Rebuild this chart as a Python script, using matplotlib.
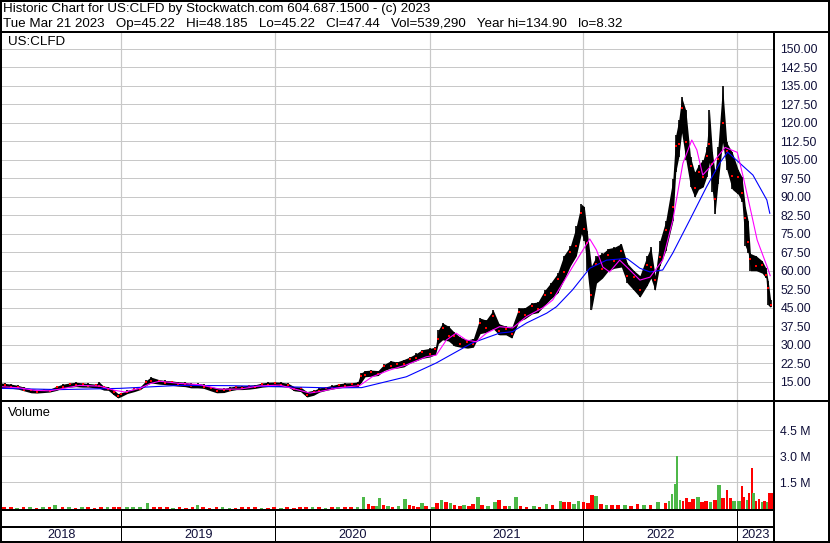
import matplotlib
matplotlib.use('Agg')
import matplotlib.pyplot as plt
import numpy as np
import pandas as pd

plt.rcParams['font.family'] = ['Liberation Sans', 'DejaVu Sans']

# ---------------- data ----------------
title_line1 = "Historic Chart for US:CLFD by Stockwatch.com 604.687.1500 - (c) 2023"
title_line2 = ("Tue Mar 21 2023   Op=45.22   Hi=48.185   Lo=45.22   Cl=47.44   "
               "Vol=539,290   Year hi=134.90   lo=8.32")
symbol = "US:CLFD"

price_dates = [
    "2018-03-21", "2018-04-01", "2018-04-15", "2018-05-01", "2018-05-15", "2018-06-01",
    "2018-06-15", "2018-07-01", "2018-07-15", "2018-08-01", "2018-08-15", "2018-09-01",
    "2018-09-15", "2018-10-01", "2018-10-15", "2018-11-01", "2018-11-10", "2018-11-20",
    "2018-12-01", "2018-12-15", "2018-12-24",
    "2019-01-01", "2019-01-15", "2019-02-01", "2019-02-15", "2019-03-01", "2019-03-12",
    "2019-04-01", "2019-04-15", "2019-05-01", "2019-05-15", "2019-06-01", "2019-06-15",
    "2019-07-01", "2019-07-15", "2019-08-01", "2019-08-15", "2019-09-01", "2019-09-15",
    "2019-10-01", "2019-10-15", "2019-11-01", "2019-11-15", "2019-12-01", "2019-12-15",
    "2020-01-01", "2020-01-15", "2020-02-01", "2020-02-15", "2020-03-01", "2020-03-16",
    "2020-04-01", "2020-04-15", "2020-05-01", "2020-05-15", "2020-06-01", "2020-06-15",
    "2020-07-01", "2020-07-15", "2020-07-22", "2020-08-01", "2020-08-15", "2020-09-01",
    "2020-09-15", "2020-10-01", "2020-10-15", "2020-11-01", "2020-11-15", "2020-12-01",
    "2020-12-15",
    "2021-01-01", "2021-01-15", "2021-01-22", "2021-02-01", "2021-02-15", "2021-03-01",
    "2021-03-15", "2021-04-01", "2021-04-15", "2021-05-01", "2021-05-15", "2021-06-01",
    "2021-06-15", "2021-07-01", "2021-07-15", "2021-08-01", "2021-08-15", "2021-09-01",
    "2021-09-15", "2021-10-01", "2021-10-15", "2021-11-01", "2021-11-15", "2021-12-01",
    "2021-12-15", "2021-12-27",
    "2022-01-03", "2022-01-10", "2022-01-20", "2022-02-01", "2022-02-15", "2022-03-01",
    "2022-03-15", "2022-04-01", "2022-04-15", "2022-05-01", "2022-05-15", "2022-06-01",
    "2022-06-10", "2022-06-20", "2022-07-01", "2022-07-15", "2022-08-01", "2022-08-08",
    "2022-08-15", "2022-08-22", "2022-09-01", "2022-09-12", "2022-09-22", "2022-10-01",
    "2022-10-12", "2022-10-20", "2022-10-27", "2022-11-03", "2022-11-09", "2022-11-16",
    "2022-11-27", "2022-12-07", "2022-12-20",
    "2023-01-03", "2023-01-12", "2023-01-20", "2023-01-27", "2023-02-01", "2023-02-15",
    "2023-03-01", "2023-03-10", "2023-03-15", "2023-03-21",
]
price_hi = [
    14.5, 14.3, 14.0, 13.5, 12.8, 12.2, 11.8, 12.0, 12.0, 13.2, 14.0, 14.5,
    14.8, 14.5, 14.3, 14.0, 14.8, 13.2, 13.0, 11.5, 10.2,
    10.5, 11.5, 12.2, 13.0, 15.5, 16.9, 15.8, 15.5, 15.3, 15.0, 14.8, 14.3,
    14.3, 14.0, 13.0, 12.5, 12.3, 12.8, 13.3, 13.3, 13.6, 13.8, 14.5, 14.8,
    14.9, 14.8, 14.3, 13.0, 12.8, 11.0, 11.5, 12.5, 13.0, 13.5, 14.2, 14.5,
    14.6, 14.9, 18.5, 19.5, 19.7, 19.5, 22.0, 23.5, 23.0, 24.0, 25.0, 26.5,
    28.0,
    28.5, 29.0, 36.0, 38.8, 37.5, 35.0, 33.0, 32.0, 32.5, 40.8, 40.0, 44.0,
    38.5, 37.5, 37.0, 45.0, 45.0, 47.0, 47.3, 52.0, 55.0, 59.0, 66.0, 70.0,
    78.0, 87.0,
    86.0, 76.0, 62.0, 66.0, 67.0, 69.0, 69.5, 71.0, 63.0, 60.0, 58.0, 66.0,
    69.5, 58.0, 72.0, 80.0, 97.0, 115.0, 121.0, 130.4, 125.0, 106.0, 100.0, 103.0,
    105.0, 110.0, 125.0, 108.0, 100.0, 110.0, 135.0, 112.0, 108.0,
    101.0, 98.0, 86.0, 80.0, 67.0, 66.0, 64.0, 61.0, 56.0, 48.2,
]
price_lo = [
    12.3, 12.5, 12.3, 12.0, 11.3, 10.5, 10.4, 10.6, 10.8, 11.5, 12.5, 12.8,
    13.0, 12.8, 12.8, 12.5, 12.3, 11.6, 11.5, 9.5, 8.4,
    9.0, 10.2, 11.0, 11.8, 13.5, 14.5, 14.0, 13.8, 13.5, 13.2, 13.0, 12.5,
    12.5, 12.3, 11.3, 10.5, 10.6, 11.3, 11.8, 11.8, 12.0, 12.3, 12.8, 13.0,
    13.0, 13.0, 12.8, 11.3, 11.0, 8.8, 9.5, 10.8, 11.5, 12.0, 12.5, 12.8,
    12.8, 13.0, 14.5, 17.0, 17.2, 17.5, 19.5, 20.5, 20.5, 21.0, 22.5, 23.5,
    24.5,
    25.0, 26.0, 30.5, 32.0, 31.5, 29.5, 29.0, 28.6, 29.0, 34.5, 35.0, 36.5,
    34.0, 34.0, 32.7, 39.5, 40.5, 42.5, 43.0, 46.0, 48.5, 51.0, 56.0, 62.0,
    66.0, 75.0,
    72.0, 60.0, 44.0, 55.0, 57.0, 60.0, 61.0, 61.5, 55.0, 52.0, 49.3, 54.0,
    57.0, 52.0, 62.0, 68.0, 80.0, 100.0, 106.0, 116.0, 105.0, 94.0, 89.8, 93.0,
    94.0, 98.0, 104.0, 92.0, 83.0, 95.0, 112.0, 101.0, 93.0,
    91.0, 88.0, 70.0, 67.0, 60.0, 60.0, 59.0, 57.0, 46.0, 45.2,
]

ma_short_dates = [
    "2018-03-21", "2018-05-05", "2018-06-09", "2018-07-15", "2018-08-08", "2018-09-24",
    "2018-11-11", "2018-12-16", "2019-01-10", "2019-02-14", "2019-03-10", "2019-04-02",
    "2019-05-19", "2019-07-06", "2019-08-22", "2019-10-09", "2019-11-25", "2020-01-12",
    "2020-02-28", "2020-03-23", "2020-04-15", "2020-06-02", "2020-07-19", "2020-07-24",
    "2020-08-18", "2020-09-28", "2020-11-07", "2020-12-24", "2021-01-17", "2021-02-10",
    "2021-03-05", "2021-03-29", "2021-04-22", "2021-05-16", "2021-06-16", "2021-07-17",
    "2021-08-19", "2021-09-26", "2021-10-20", "2021-11-06", "2021-12-06", "2022-01-16",
    "2022-02-01", "2022-02-16", "2022-03-04", "2022-03-28", "2022-04-21", "2022-05-15",
    "2022-06-08", "2022-07-08", "2022-08-01", "2022-08-25", "2022-09-15", "2022-09-27",
    "2022-10-11", "2022-10-28", "2022-11-14", "2022-12-03", "2023-01-01", "2023-01-15",
    "2023-01-31", "2023-02-17", "2023-03-13", "2023-03-20",
]
ma_short = [
    13.0, 12.5, 11.5, 11.3, 12.0, 13.5, 13.2, 11.5, 10.8, 12.3, 14.2, 15.2,
    14.3, 13.8, 12.0, 12.0, 13.3, 13.6, 11.5, 10.4, 11.0, 12.6, 13.4, 14.0,
    17.0, 19.7, 21.8, 25.1, 25.8, 31.9, 34.7, 31.9, 31.2, 34.7, 37.3, 36.8,
    41.4, 44.9, 48.1, 53.0, 61.5, 72.9, 68.4, 61.5, 59.5, 64.3, 60.3, 56.2,
    57.4, 64.3, 80.5, 103.6, 113.0, 109.0, 98.8, 102.0, 106.0, 110.0, 108.0, 98.0,
    85.8, 72.5, 61.5, 58.0,
]

ma_long_dates = [
    "2018-03-21", "2018-08-08", "2018-12-29", "2019-05-19", "2019-09-14", "2020-02-04",
    "2020-05-09", "2020-07-24", "2020-11-07", "2021-01-17", "2021-04-12", "2021-06-16",
    "2021-07-17", "2021-08-19", "2021-10-06", "2021-10-29", "2021-12-06", "2022-01-16",
    "2022-02-25", "2022-04-14", "2022-05-15", "2022-06-08", "2022-07-08", "2022-08-01",
    "2022-09-10", "2022-10-20", "2022-11-20", "2022-12-09", "2023-01-07", "2023-02-07",
    "2023-03-12", "2023-03-19",
]
ma_long = [
    12.3, 11.8, 12.3, 13.5, 13.4, 12.9, 12.5, 12.6, 17.0, 22.6, 30.7, 34.7,
    35.3, 38.8, 42.8, 45.4, 52.2, 61.0, 64.3, 65.0, 61.0, 59.5, 60.3, 67.2,
    80.5, 94.0, 103.6, 108.1, 103.6, 98.8, 88.7, 83.3,
]

vol_dates = [
    # 2018
    "2018-03-25", "2018-04-10", "2018-04-25", "2018-05-10", "2018-05-25", "2018-06-10",
    "2018-06-25", "2018-07-10", "2018-07-24", "2018-08-10", "2018-08-25", "2018-09-10",
    "2018-09-25", "2018-10-10", "2018-10-25", "2018-11-10", "2018-11-25", "2018-12-10",
    "2018-12-22",
    # 2019
    "2019-01-10", "2019-01-25", "2019-02-10", "2019-02-28", "2019-03-15", "2019-03-30",
    "2019-04-15", "2019-04-30", "2019-05-15", "2019-05-30", "2019-06-15", "2019-06-26",
    "2019-07-10", "2019-07-25", "2019-08-10", "2019-08-25", "2019-09-10", "2019-09-25",
    "2019-10-10", "2019-10-25", "2019-11-10", "2019-11-25", "2019-12-10", "2019-12-25",
    # 2020
    "2020-01-10", "2020-01-25", "2020-02-10", "2020-02-25", "2020-03-10", "2020-03-25",
    "2020-04-10", "2020-04-25", "2020-05-10", "2020-05-25", "2020-06-10", "2020-06-25",
    "2020-07-10", "2020-07-24", "2020-08-05", "2020-08-15", "2020-08-25", "2020-09-01",
    "2020-09-10", "2020-09-20", "2020-10-01", "2020-10-15", "2020-10-31", "2020-11-10",
    "2020-11-20", "2020-12-01", "2020-12-10", "2020-12-20",
    # 2021
    "2021-01-05", "2021-01-15", "2021-01-25", "2021-02-05", "2021-02-15", "2021-02-25",
    "2021-03-10", "2021-03-20", "2021-04-01", "2021-04-10", "2021-04-22", "2021-05-01",
    "2021-05-15", "2021-06-01", "2021-06-11", "2021-06-25", "2021-07-05", "2021-07-21",
    "2021-08-01", "2021-08-15", "2021-09-01", "2021-09-15", "2021-10-01", "2021-10-15",
    "2021-11-03", "2021-11-12", "2021-11-24", "2021-12-05", "2021-12-16", "2021-12-28",
    # 2022
    "2022-01-07", "2022-01-17", "2022-01-27", "2022-02-07", "2022-02-20", "2022-03-05",
    "2022-03-20", "2022-04-05", "2022-04-20", "2022-05-05", "2022-05-20", "2022-06-05",
    "2022-06-23", "2022-07-10", "2022-07-20", "2022-07-27", "2022-08-03", "2022-08-08",
    "2022-08-15", "2022-08-22", "2022-08-29", "2022-09-07", "2022-09-14", "2022-09-26",
    "2022-10-05", "2022-10-15", "2022-10-25", "2022-11-05", "2022-11-14", "2022-11-24",
    "2022-12-05", "2022-12-12", "2022-12-20",
    # 2023
    "2023-01-01", "2023-01-10", "2023-01-15", "2023-01-21", "2023-01-27", "2023-02-02",
    "2023-02-06", "2023-02-11", "2023-02-18", "2023-02-25", "2023-03-04", "2023-03-10",
    "2023-03-15", "2023-03-20",
]
vol_millions = [
    # 2018
    0.06, 0.08, 0.05, 0.07, 0.06, 0.05, 0.08, 0.06, 0.20, 0.07, 0.06, 0.05,
    0.07, 0.06, 0.05, 0.08, 0.06, 0.09, 0.10,
    # 2019
    0.08, 0.06, 0.07, 0.30, 0.10, 0.07, 0.06, 0.05, 0.06, 0.05, 0.06, 0.22,
    0.06, 0.05, 0.07, 0.06, 0.05, 0.05, 0.06, 0.08, 0.07, 0.05, 0.05, 0.06,
    # 2020
    0.05, 0.06, 0.05, 0.07, 0.08, 0.07, 0.06, 0.05, 0.06, 0.06, 0.07, 0.10,
    0.08, 0.65, 0.25, 0.12, 0.15, 0.60, 0.20, 0.12, 0.10, 0.15, 0.54, 0.20,
    0.15, 0.10, 0.30, 0.12,
    # 2021
    0.10, 0.30, 0.50, 0.35, 0.30, 0.20, 0.15, 0.20, 0.12, 0.25, 0.65, 0.20,
    0.15, 0.37, 0.48, 0.15, 0.12, 0.65, 0.15, 0.10, 0.12, 0.10, 0.25, 0.20,
    0.42, 0.37, 0.37, 0.25, 0.42, 0.37,
    # 2022
    0.30, 0.77, 0.71, 0.25, 0.20, 0.22, 0.18, 0.20, 0.15, 0.25, 0.18, 0.22,
    0.37, 0.30, 0.45, 0.83, 1.40, 3.00, 0.50, 0.45, 0.58, 0.40, 0.52, 0.65,
    0.35, 0.45, 0.40, 0.50, 1.35, 0.60, 1.06, 0.58, 0.45,
    # 2023
    0.42, 1.29, 0.67, 0.50, 0.88, 2.33, 0.90, 0.45, 0.55, 0.35, 0.45, 0.40,
    0.92, 0.92,
]
# 1 = up day (green bar), 0 = down day (red bar)
vol_up = [
    # 2018
    0, 0, 1, 0, 1, 0, 1, 0, 1, 0, 1, 0, 1, 0, 0, 0, 1, 0, 0,
    # 2019
    1, 1, 1, 1, 0, 0, 0, 1, 0, 0, 0, 1, 0, 0, 0, 1, 1, 0, 0, 0, 0, 1, 0, 0,
    # 2020
    1, 0, 0, 0, 0, 1, 0, 1, 0, 1, 0, 0, 1, 1, 0, 0, 1, 1, 0, 1, 0, 1, 1, 0,
    0, 0, 1, 0,
    # 2021
    1, 0, 1, 0, 1, 0, 0, 1, 0, 0, 1, 0, 1, 1, 0, 0, 1, 1, 0, 0, 1, 0, 1, 0,
    1, 0, 0, 1, 1, 0,
    # 2022
    0, 0, 1, 0, 1, 0, 0, 1, 0, 0, 1, 0, 1, 0, 1, 1, 1, 1, 1, 0, 0, 0, 0, 1,
    0, 0, 1, 0, 1, 0, 0, 0, 1,
    # 2023
    1, 0, 0, 1, 0, 0, 1, 0, 0, 1, 0, 1, 0, 0,
]

year_labels = ["2018", "2019", "2020", "2021", "2022", "2023"]
price_ticks = [15.0, 22.5, 30.0, 37.5, 45.0, 52.5, 60.0, 67.5, 75.0, 82.5, 90.0,
               97.5, 105.0, 112.5, 120.0, 127.5, 135.0, 142.5, 150.0]
vol_ticks = [1.5, 3.0, 4.5]

# ---------------- figure ----------------
W, H = 830, 543
fig = plt.figure(figsize=(W / 100, H / 100), dpi=100)
fig.patch.set_facecolor('white')


def rect(x0, y0, x1, y1):
    return [x0 / W, 1 - y1 / H, (x1 - x0) / W, (y1 - y0) / H]


PX = 0.72  # points per pixel
XL = (pd.Timestamp("2018-03-24"), pd.Timestamp("2023-03-29"))
GRID = '#C8C8C8'
LABEL_COLOR = '#10103a'
FS = 8.8
FS_HEAD = 9.6

pd_price = pd.to_datetime(price_dates)
hi = np.array(price_hi)
lo = np.array(price_lo)

ax = fig.add_axes(rect(2, 33, 774, 400))
ax.set_xlim(XL)
ax.set_ylim(7.58, 156.4)
for yv in price_ticks:
    ax.axhline(yv, color=GRID, lw=1 * PX, zorder=0)
for yl in year_labels[1:]:
    ax.axvline(pd.Timestamp(yl + "-01-01"), color=GRID, lw=1.2 * PX, zorder=0)
ax.fill_between(pd_price, lo, hi, color='black', lw=0, zorder=2)
ax.vlines(pd_price, lo, hi, color='black', lw=1.2, zorder=2)
frac = np.where(np.arange(len(hi)) % 2 == 0, 0.35, 0.7)
ax.plot(pd_price, lo + frac * (hi - lo), ls='none', marker='s', ms=1.5, color='red',
        mew=0, zorder=3)
ax.plot(pd.to_datetime(ma_long_dates), ma_long, color='#0000FF', lw=0.8, zorder=4)
ax.plot(pd.to_datetime(ma_short_dates), ma_short, color='#FF00FF', lw=0.8, zorder=5)
ax.yaxis.tick_right()
ax.set_yticks(price_ticks)
ax.set_yticklabels([f"{v:.2f}" for v in price_ticks])
ax.tick_params(axis='y', length=0, pad=4.6, labelsize=FS, labelcolor=LABEL_COLOR)
ax.set_xticks([])
for s in ax.spines.values():
    s.set_visible(False)

axv = fig.add_axes(rect(2, 402, 774, 508.5))
axv.set_xlim(XL)
axv.set_ylim(0, 6.14)
for yv in vol_ticks:
    axv.axhline(yv, color=GRID, lw=1 * PX, zorder=0)
for yl in year_labels[1:]:
    axv.axvline(pd.Timestamp(yl + "-01-01"), color=GRID, lw=1.2 * PX, zorder=0)
vdt = pd.to_datetime(vol_dates)
gaps = np.diff(vdt.values).astype('timedelta64[D]').astype(float)
vwidth = np.clip(np.append(gaps, 7.0), 6.0, 10.0) * 0.85
vcol = ['#4DB848' if u else '#FF0000' for u in vol_up]
axv.bar(vdt, vol_millions, width=vwidth, align='edge', color=vcol, lw=0, zorder=2)
axv.yaxis.tick_right()
axv.set_yticks(vol_ticks)
axv.set_yticklabels([f"{v:.1f} M" for v in vol_ticks])
axv.tick_params(axis='y', length=0, pad=4.6, labelsize=FS, labelcolor=LABEL_COLOR)
axv.set_xticks([])
for s in axv.spines.values():
    s.set_visible(False)

# year band
axy = fig.add_axes(rect(2, 527, 774, 541))
axy.set_xlim(XL)
axy.set_ylim(0, 1)
axy.axis('off')
for i, yl in enumerate(year_labels):
    a = max(pd.Timestamp(yl + "-01-01"), XL[0])
    b = min(pd.Timestamp(str(int(yl) + 1) + "-01-01"), XL[1])
    axy.text(a + (b - a) / 2, 0.45, yl, ha='center', va='center', fontsize=FS + 0.4,
             color=LABEL_COLOR)

# overlay for frame lines and header text
ov = fig.add_axes([0, 0, 1, 1])
ov.set_xlim(0, W)
ov.set_ylim(H, 0)
ov.axis('off')
ov.patch.set_alpha(0)


def hline(y, x0, x1, w):
    ov.plot([x0, x1], [y, y], color='black', lw=w * PX, solid_capstyle='butt')


def vline(x, y0, y1, w):
    ov.plot([x, x], [y0, y1], color='black', lw=w * PX, solid_capstyle='butt')


hline(32, 0, W, 2)
hline(401, 0, W, 2)
hline(509.5, 0, 774, 2)
hline(526.5, 0, 774, 2)
vline(774.3, 32, H, 2)
x_per_day = (774 - 2) / (XL[1] - XL[0]).days
for yl in year_labels[1:]:
    xd = 2 + (pd.Timestamp(yl + "-01-01") - XL[0]).days * x_per_day
    vline(xd, 510, H, 1)
# outer border
hline(1, 0, W, 2)
hline(H - 1.5, 0, W, 3)
vline(1, 0, H, 2)
vline(W - 1, 0, H, 2)

ov.text(3, 9, title_line1, fontsize=FS_HEAD, va='center', ha='left', color='black')
ov.text(3, 24, title_line2, fontsize=FS_HEAD, va='center', ha='left', color='black')
ov.text(8, 42, symbol, fontsize=FS_HEAD, va='center', ha='left', color='black')
ov.text(8, 413, "Volume", fontsize=FS_HEAD - 0.3, va='center', ha='left', color='black')

fig.savefig("out.png", dpi=100)
